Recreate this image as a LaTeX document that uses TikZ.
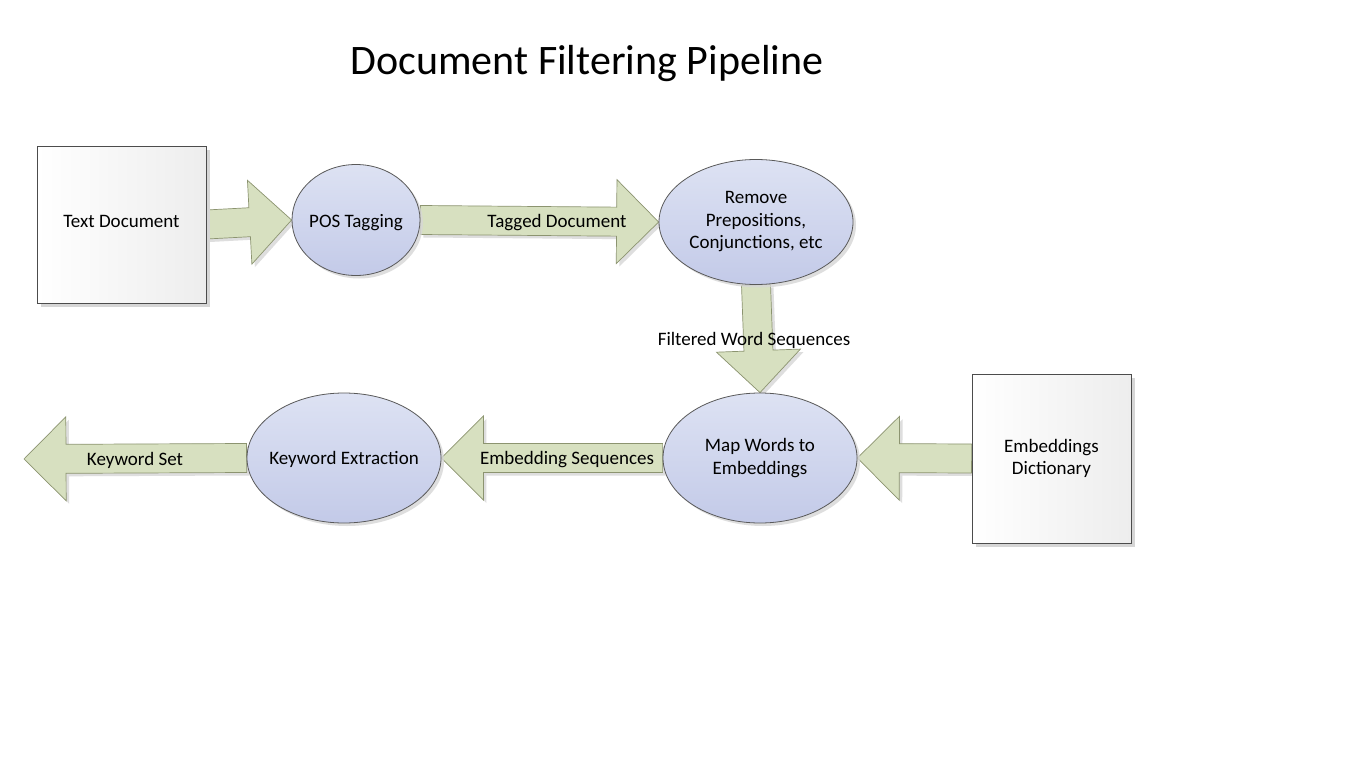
\documentclass[tikz,border=0pt]{standalone}
\usepackage{fontspec}
\setmainfont{Carlito}
\usetikzlibrary{calc,shadows,backgrounds,shapes.geometric}
\definecolor{ellTop}{HTML}{DDE2F3}
\definecolor{ellBot}{HTML}{C3CAE8}
\definecolor{arrFill}{HTML}{D7E0C0}
\definecolor{arrLine}{HTML}{8C9470}
\definecolor{shd}{HTML}{D6D6D6}
\newcommand{\shiftdown}[2]{\raisebox{-#1}[\height][\depth]{#2}}
\tikzset{
 base/.style={font=\fontsize{19}{22.5}\selectfont, align=center, text=black},
 docbox/.style={base, rectangle, draw=black!70, line width=0.8pt, left color=white, right color=black!7,
   inner sep=0pt, drop shadow={shadow xshift=4pt, shadow yshift=-4pt, fill=shd, opacity=1}},
 proc/.style={base, ellipse, draw=black!65, line width=0.8pt, top color=ellTop, bottom color=ellBot,
   inner xsep=-12pt, inner ysep=0pt, drop shadow={shadow xshift=3pt, shadow yshift=-3pt, fill=shd, opacity=0.8}},
 lbl/.style={base},
 blockarrow/.style={draw=arrLine, fill=arrFill, line width=0.7pt, line join=miter,
   drop shadow={shadow xshift=3pt, shadow yshift=-3pt, fill=shd, opacity=0.8},
   to path={
    -- ($(\tikztostart)!14.5pt!90:(\tikztotarget)$)
    -- ($($(\tikztotarget)!42pt!(\tikztostart)$)!14.5pt!90:(\tikztotarget)$)
    -- ($($(\tikztotarget)!42pt!(\tikztostart)$)!42pt!90:(\tikztotarget)$)
    -- (\tikztotarget)
    -- ($($(\tikztotarget)!42pt!(\tikztostart)$)!42pt!-90:(\tikztotarget)$)
    -- ($($(\tikztotarget)!42pt!(\tikztostart)$)!14.5pt!-90:(\tikztotarget)$)
    -- ($(\tikztostart)!14.5pt!-90:(\tikztotarget)$)
    -- cycle}}
}
\begin{document}
\begin{tikzpicture}[x=1pt,y=-1pt]
\useasboundingbox (0,0) rectangle (1366,768);
% nodes
\node[docbox, minimum width=169pt, minimum height=157pt] (td) at (121.5,224.5) {\shiftdown{-3pt}{Text Document}};
\node[proc, minimum width=128pt, minimum height=111pt] (pos) at (356,220) {\shiftdown{3pt}{POS Tagging}};
\node[proc, minimum width=194pt, minimum height=125pt] (rm) at (756,222) {Remove\\Prepositions,\\Conjunctions, etc};
\node[proc, minimum width=194pt, minimum height=130pt] (map) at (760,458) {Map Words to\\Embeddings};
\node[proc, minimum width=194pt, minimum height=130pt] (kw) at (344,458) {\shiftdown{1.5pt}{Keyword Extraction}};
\node[docbox, minimum width=159pt, minimum height=169pt] (dict) at (1051.5,458.5) {Embeddings\\Dictionary};
\coordinate (out) at (24,459);
% title
\node[base, font=\fontsize{42}{48}\selectfont] (title) at (587,64) {Document Filtering Pipeline};
% arrows
\begin{pgfonlayer}{background}
\fill[white] (0,0) rectangle (1366,768);
\draw[blockarrow] (td.east) to (pos.west);
\draw[blockarrow] (pos.east) to (rm.west);
\draw[blockarrow] (rm.south) to (map.north);
\draw[blockarrow] (dict.west) to (map.east);
\draw[blockarrow] (map.west) to (kw.east);
\draw[blockarrow] (kw.west) to (out);
\end{pgfonlayer}
% labels
\node[lbl] (l1) at (557,222.5) {Tagged Document};
\node[lbl] (l2) at (754,340) {Filtered Word Sequences};
\node[lbl] (l3) at (567,459.5) {Embedding Sequences};
\node[lbl] (l4) at (135,460.5) {Keyword Set};
\end{tikzpicture}
\end{document}
